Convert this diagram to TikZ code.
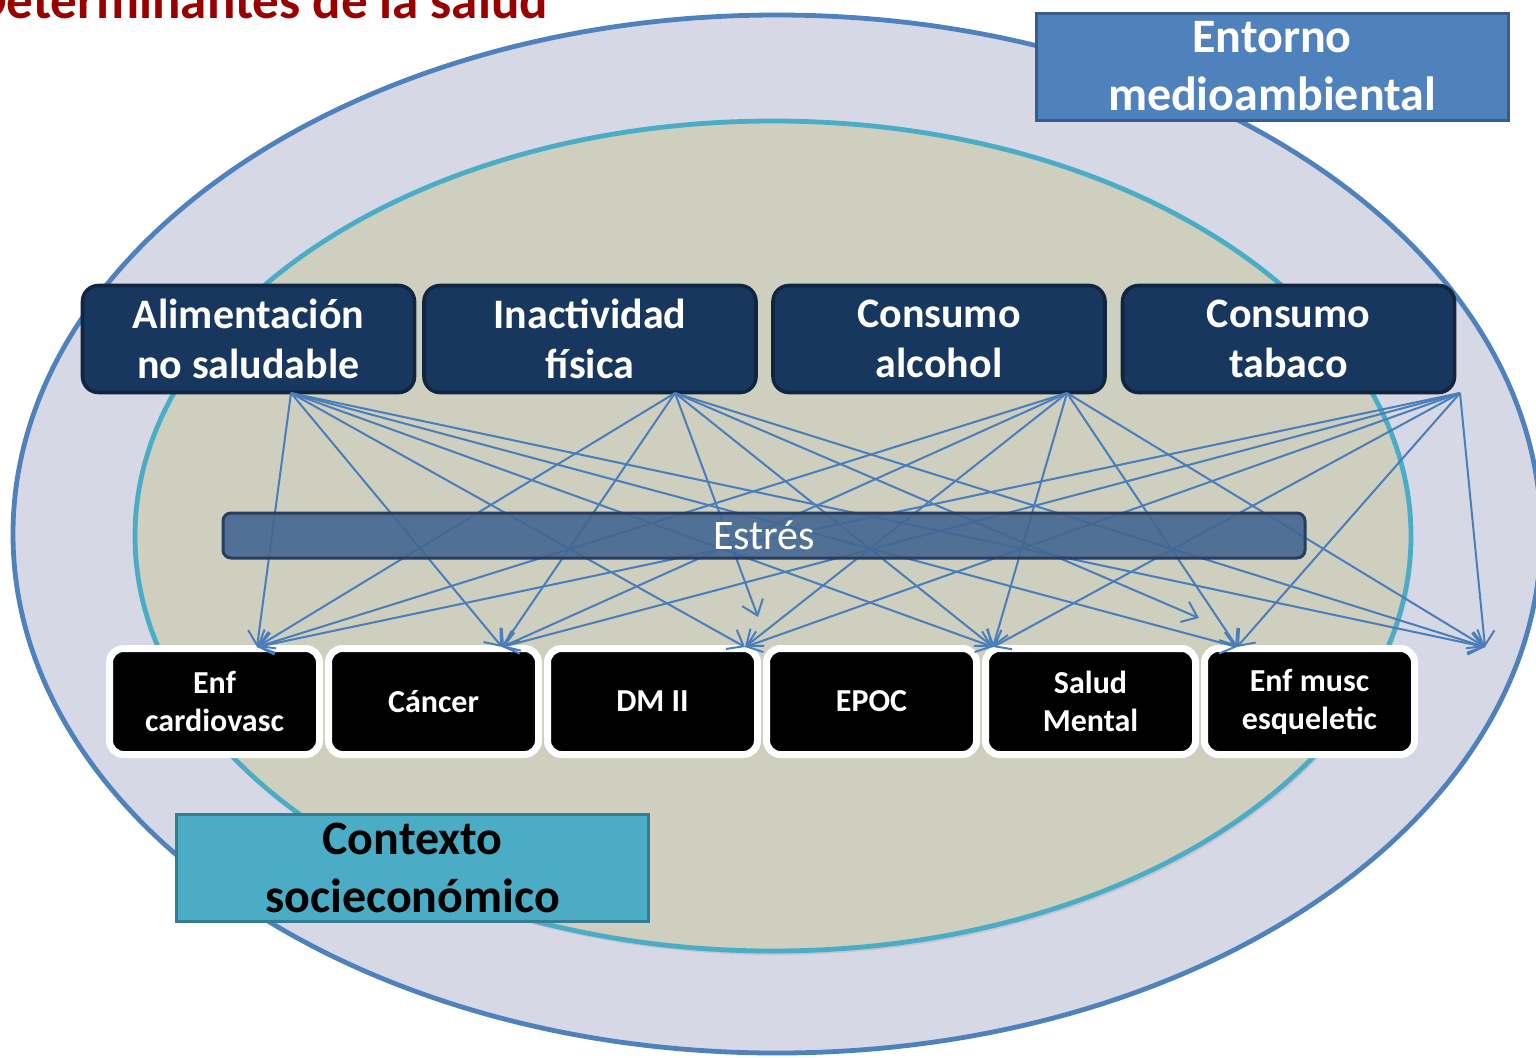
\documentclass[tikz,border=0pt]{standalone}
\usepackage{fontspec}
\setmainfont{Carlito}
\usetikzlibrary{arrows.meta,shadows}
\definecolor{outerfill}{RGB}{215,216,229}
\definecolor{outerline}{RGB}{79,129,189}
\definecolor{innerfill}{RGB}{206,207,190}
\definecolor{innerline}{RGB}{75,172,198}
\definecolor{navy}{RGB}{23,55,94}
\definecolor{navydark}{RGB}{16,37,63}
\definecolor{stressfill}{RGB}{68,102,146}
\definecolor{stressline}{RGB}{40,62,94}
\definecolor{linkblue}{RGB}{74,126,187}
\definecolor{entfill}{RGB}{79,129,189}
\definecolor{entline}{RGB}{56,93,138}
\definecolor{ctxfill}{RGB}{75,172,198}
\definecolor{ctxline}{RGB}{55,125,145}
\definecolor{titlered}{RGB}{153,0,0}
\begin{document}
\begin{tikzpicture}[x=0.5pt,y=-0.5pt,
  softshadow/.style={drop shadow={opacity=0.25,shadow xshift=1pt,shadow yshift=-1.5pt}},
  topbox/.style={rectangle,rounded corners=8pt,fill=navy,draw=navydark,line width=1.8pt,
    text=white,align=center,minimum width=166pt,minimum height=53.5pt,inner sep=0pt,
    font=\fontsize{21}{25}\selectfont\bfseries},
  illbox/.style={rectangle,rounded corners=7pt,fill=black,draw=white,line width=3.5pt,
    text=white,align=center,minimum width=105pt,minimum height=53pt,inner sep=0pt,
    font=\fontsize{16}{19}\selectfont\bfseries,softshadow},
  stressbar/.style={rectangle,rounded corners=4pt,fill=stressfill,fill opacity=0.9,text opacity=1,
    draw=stressline,line width=1.5pt,text=white,minimum width=541pt,minimum height=22.5pt,inner sep=0pt,
    font=\fontsize{21}{25}\selectfont},
  labelbox/.style={rectangle,line width=1.5pt,align=center,minimum width=236pt,minimum height=53.5pt,
    inner sep=0pt,font=\fontsize{24}{29}\selectfont\bfseries},
  link/.style={draw=linkblue,line width=1pt,-{Straight Barb[length=7pt,width=11pt]}}
]
\useasboundingbox (0,0) rectangle (1536,1057);
% background ellipses
\fill[white] (0,0) rectangle (1536,1057);
\draw[fill=outerfill,draw=outerline,line width=2.4pt] (777,534) ellipse [x radius=382pt,y radius=259.5pt];
\draw[fill=innerfill,draw=innerline,line width=2.4pt,
  drop shadow={opacity=0.2,shadow xshift=1pt,shadow yshift=-2pt}] (773,536) ellipse [x radius=319pt,y radius=207.5pt];
% title
\node[anchor=base west,inner sep=0pt,text=titlered,font=\fontsize{26.5}{30}\selectfont\bfseries] (title) at (-27,18) {Determinantes de la salud};
% label boxes
\node[labelbox,fill=entfill,draw=entline,text=white] (entorno) at (1272,66.5) {Entorno\\medioambiental};
\node[labelbox,fill=ctxfill,draw=ctxline,text=black] (contexto) at (412.5,868) {Contexto\\socieconómico};
% determinants
\node[topbox] (alim) at (248.5,339) {Alimentación\\no saludable};
\node[topbox] (inact) at (590,339) {Inactividad\\física};
\node[topbox] (alcohol) at (939,339) {Consumo\\alcohol};
\node[topbox] (tabaco) at (1288.5,339) {Consumo\\tabaco};
% illnesses
\node[illbox] (cardio) at (214.5,701.5) {Enf\\cardiovasc};
\node[illbox] (cancer) at (433.5,701.5) {Cáncer};
\node[illbox] (dm) at (652.5,701.5) {DM II};
\node[illbox] (epoc) at (871.5,701.5) {EPOC};
\node[illbox] (mental) at (1090.5,701.5) {Salud\\Mental};
\node[illbox] (musc) at (1309.5,701.5) {Enf musc\\esqueletic};
% connector ends
\coordinate (sA) at (291,393);
\coordinate (sB) at (675,393);
\coordinate (sC) at (1067,393);
\coordinate (sD) at (1460,393);
\coordinate (t1) at (257,647);
\coordinate (t2) at (502,647);
\coordinate (t3) at (745,647);
\coordinate (t4) at (993,647);
\coordinate (t5) at (1237,647);
\coordinate (t6) at (1485,647);
\coordinate (s3) at (758,617);
\coordinate (s5) at (1199,618);
% connectors
\foreach \s in {sA,sC,sD}{
  \foreach \t in {t1,t2,t3,t4,t5,t6}{
    \draw[link] (\s) -- (\t);
  }
}
\foreach \t in {t1,t2,s3,t4,s5,t6}{
  \draw[link] (sB) -- (\t);
}
% stress bar
\node[stressbar] (estres) at (764,535.5) {Estrés};
\end{tikzpicture}
\end{document}
